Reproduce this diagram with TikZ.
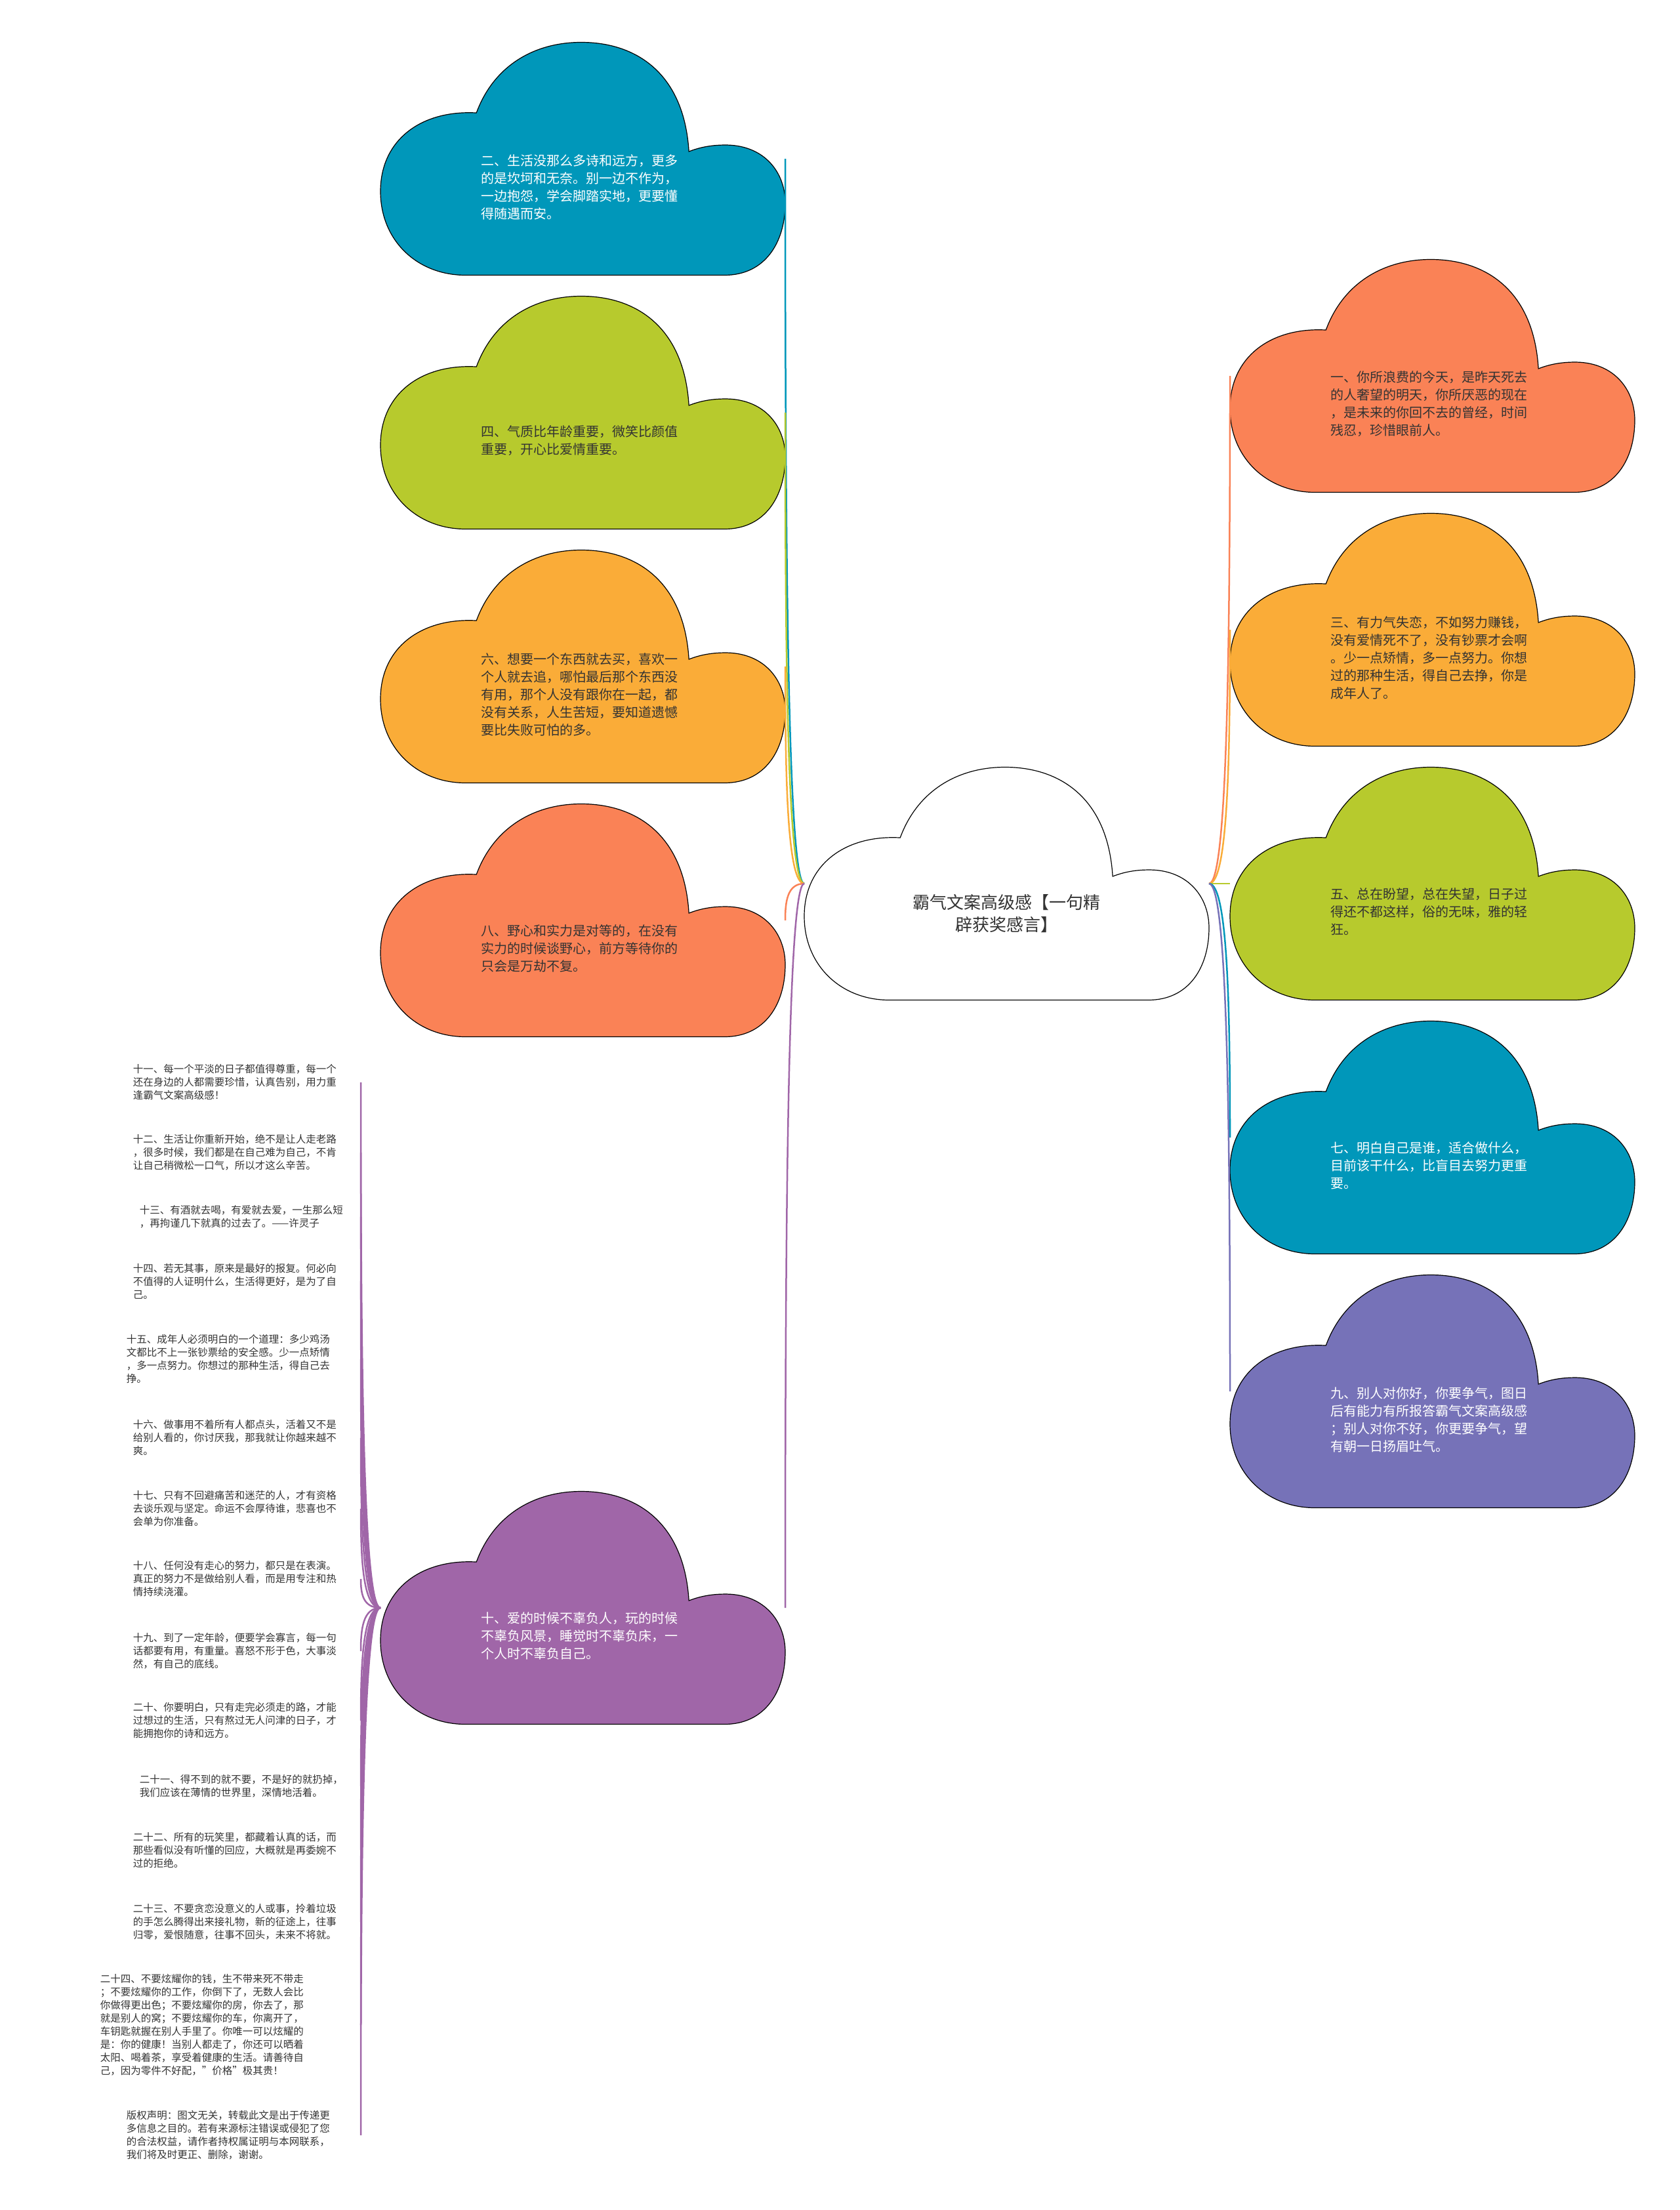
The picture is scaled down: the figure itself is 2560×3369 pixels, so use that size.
\documentclass[tikz,border=0pt]{standalone}
\usepackage{fontspec}
\setmainfont{Noto Sans CJK SC}
\usetikzlibrary{positioning, calc}

\definecolor{cteal}{RGB}{0,151,186}
\definecolor{cgreen}{RGB}{183,202,45}
\definecolor{corange}{RGB}{250,172,56}
\definecolor{ccoral}{RGB}{250,130,86}
\definecolor{cpurple}{RGB}{160,102,168}
\definecolor{cviolet}{RGB}{118,114,184}
\definecolor{cdark}{RGB}{51,51,51}

\tikzset{
	pics/cloudshape/.style={code={
			\filldraw [pic actions, draw=black, line width=1.2pt, x=617pt, y=-355pt]
			(0.21,1) .. controls (0.09,1) and (0,0.85) .. (0,0.64)
			.. controls (0,0.42) and (0.1,0.29) .. (0.237,0.303)
			.. controls (0.28,0.1) and (0.38,0) .. (0.496,0)
			.. controls (0.63,0) and (0.75,0.13) .. (0.762,0.469)
			.. controls (0.79,0.45) and (0.82,0.44) .. (0.857,0.441)
			.. controls (0.95,0.445) and (1,0.56) .. (1,0.69)
			.. controls (1,0.86) and (0.95,1) .. (0.85,1) -- cycle;
	}}
}

\begin{document}
\begin{tikzpicture}[
		x=1pt, y=-1pt,
		% Estilos de las nubes y textos
		cloudbox/.style={minimum width=617pt, minimum height=355pt, inner sep=0pt, outer sep=0pt},
		ctext/.style={text width=310pt, align=left, inner sep=0pt, yshift=-43pt, text=cdark, font=\fontsize{20pt}{27pt}\selectfont},
		title/.style={align=center, inner sep=0pt, yshift=-46pt, text=cdark, font=\fontsize{26pt}{34pt}\selectfont},
		item/.style={anchor=east, align=left, inner sep=0pt, text=cdark, font=\fontsize{15.5pt}{20pt}\selectfont},
		link/.style={draw=#1, line width=2.5pt,
			to path={.. controls ($(\tikztostart)!0.9!(\tikztotarget |- \tikztostart)$) and ($(\tikztotarget)!0.5!(\tikztotarget |- \tikztostart)$) .. (\tikztotarget)}}
		]
		
		\useasboundingbox (0,0) rectangle (2560,3369);
		
		% --- NUBE CENTRAL ---
		\node [cloudbox] (main) at (1534.5,1347) {};
		\pic [fill=white] at (main.north west) {cloudshape};
		\node [title] (tmain) at (main) {霸气文案高级感【一句精\\辟获奖感言】};
		
		% --- NUBES IZQUIERDA ---
		\node [cloudbox] (c2) at (888.5,242) {};
		\node [cloudbox, below=32pt of c2] (c4) {};
		\node [cloudbox, below=32pt of c4] (c6) {};
		\node [cloudbox, below=32pt of c6] (c8) {};
		\node [cloudbox] (c10) at (888.5,2451) {};
		
		\pic [fill=cteal] at (c2.north west) {cloudshape};
		\pic [fill=cgreen] at (c4.north west) {cloudshape};
		\pic [fill=corange] at (c6.north west) {cloudshape};
		\pic [fill=ccoral] at (c8.north west) {cloudshape};
		\pic [fill=cpurple] at (c10.north west) {cloudshape};
		
		\node [ctext, text=white] (t2) at (c2) {二、生活没那么多诗和远方，更多\\的是坎坷和无奈。别一边不作为，\\一边抱怨，学会脚踏实地，更要懂\\得随遇而安。};
		\node [ctext] (t4) at (c4) {四、气质比年龄重要，微笑比颜值\\重要，开心比爱情重要。};
		\node [ctext] (t6) at (c6) {六、想要一个东西就去买，喜欢一\\个人就去追，哪怕最后那个东西没\\有用，那个人没有跟你在一起，都\\没有关系，人生苦短，要知道遗憾\\要比失败可怕的多。};
		\node [ctext] (t8) at (c8) {八、野心和实力是对等的，在没有\\实力的时候谈野心，前方等待你的\\只会是万劫不复。};
		\node [ctext, text=white] (t10) at (c10) {十、爱的时候不辜负人，玩的时候\\不辜负风景，睡觉时不辜负床，一\\个人时不辜负自己。};
		
		% --- NUBES DERECHA ---
		\node [cloudbox] (c1) at (2183.5,573) {};
		\node [cloudbox, below=32pt of c1] (c3) {};
		\node [cloudbox, below=32pt of c3] (c5) {};
		\node [cloudbox, below=32pt of c5] (c7) {};
		\node [cloudbox, below=32pt of c7] (c9) {};
		
		\pic [fill=ccoral] at (c1.north west) {cloudshape};
		\pic [fill=corange] at (c3.north west) {cloudshape};
		\pic [fill=cgreen] at (c5.north west) {cloudshape};
		\pic [fill=cteal] at (c7.north west) {cloudshape};
		\pic [fill=cviolet] at (c9.north west) {cloudshape};
		
		\node [ctext] (t1) at (c1) {一、你所浪费的今天，是昨天死去\\的人奢望的明天，你所厌恶的现在\\，是未来的你回不去的曾经，时间\\残忍，珍惜眼前人。};
		\node [ctext] (t3) at (c3) {三、有力气失恋，不如努力赚钱，\\没有爱情死不了，没有钞票才会啊\\。少一点矫情，多一点努力。你想\\过的那种生活，得自己去挣，你是\\成年人了。};
		\node [ctext] (t5) at (c5) {五、总在盼望，总在失望，日子过\\得还不都这样，俗的无味，雅的轻\\狂。};
		\node [ctext, text=white] (t7) at (c7) {七、明白自己是谁，适合做什么，\\目前该干什么，比盲目去努力更重\\要。};
		\node [ctext, text=white] (t9) at (c9) {九、别人对你好，你要争气，图日\\后有能力有所报答霸气文案高级感\\；别人对你不好，你更要争气，望\\有朝一日扬眉吐气。};
		
		% --- LISTA DE FRASES ---
		\node [item, text width=347pt] (n11) at (550,1650) {十一、每一个平淡的日子都值得尊重，每一个\\还在身边的人都需要珍惜，认真告别，用力重\\逢霸气文案高级感！};
		\node [item, text width=347pt] (n12) at (550,1757) {十二、生活让你重新开始，绝不是让人走老路\\，很多时候，我们都是在自己难为自己，不肯\\让自己稍微松一口气，所以才这么辛苦。};
		\node [item, text width=337pt] (n13) at (550,1855) {十三、有酒就去喝，有爱就去爱，一生那么短\\，再拘谨几下就真的过去了。——许灵子};
		\node [item, text width=347pt] (n14) at (550,1953) {十四、若无其事，原来是最好的报复。何必向\\不值得的人证明什么，生活得更好，是为了自\\己。};
		\node [item, text width=357pt] (n15) at (550,2072) {十五、成年人必须明白的一个道理：多少鸡汤\\文都比不上一张钞票给的安全感。少一点矫情\\，多一点努力。你想过的那种生活，得自己去\\挣。};
		\node [item, text width=347pt] (n16) at (550,2192) {十六、做事用不着所有人都点头，活着又不是\\给别人看的，你讨厌我，那我就让你越来越不\\爽。};
		\node [item, text width=347pt] (n17) at (550,2300) {十七、只有不回避痛苦和迷茫的人，才有资格\\去谈乐观与坚定。命运不会厚待谁，悲喜也不\\会单为你准备。};
		\node [item, text width=347pt] (n18) at (550,2407) {十八、任何没有走心的努力，都只是在表演。\\真正的努力不是做给别人看，而是用专注和热\\情持续浇灌。};
		\node [item, text width=347pt] (n19) at (550,2517) {十九、到了一定年龄，便要学会寡言，每一句\\话都要有用，有重量。喜怒不形于色，大事淡\\然，有自己的底线。};
		\node [item, text width=347pt] (n20) at (550,2623) {二十、你要明白，只有走完必须走的路，才能\\过想过的生活，只有熬过无人问津的日子，才\\能拥抱你的诗和远方。};
		\node [item, text width=337pt] (n21) at (550,2723) {二十一、得不到的就不要，不是好的就扔掉，\\我们应该在薄情的世界里，深情地活着。};
		\node [item, text width=347pt] (n22) at (550,2820) {二十二、所有的玩笑里，都藏着认真的话，而\\那些看似没有听懂的回应，大概就是再委婉不\\过的拒绝。};
		\node [item, text width=347pt] (n23) at (550,2930) {二十三、不要贪恋没意义的人或事，拎着垃圾\\的手怎么腾得出来接礼物，新的征途上，往事\\归零，爱恨随意，往事不回头，未来不将就。};
		\node [item, text width=397pt] (n24) at (550,3087) {二十四、不要炫耀你的钱，生不带来死不带走\\；不要炫耀你的工作，你倒下了，无数人会比\\你做得更出色；不要炫耀你的房，你去了，那\\就是别人的窝；不要炫耀你的车，你离开了，\\车钥匙就握在别人手里了。你唯一可以炫耀的\\是：你的健康！当别人都走了，你还可以晒着\\太阳、喝着茶，享受着健康的生活。请善待自\\己，因为零件不好配，"价格"极其贵！};
		\node [item, text width=357pt] (ncopy) at (550,3255) {版权声明：图文无关，转载此文是出于传递更\\多信息之目的。若有来源标注错误或侵犯了您\\的合法权益，请作者持权属证明与本网联系，\\我们将及时更正、删除，谢谢。};
		
		% --- CONEXIONES ---
		\draw [link=cteal] (main.west) to (c2.east);
		\draw [link=cgreen] (main.west) to (c4.east);
		\draw [link=corange] (main.west) to (c6.east);
		\draw [link=ccoral] (main.west) to (c8.east);
		\draw [link=cpurple] (main.west) to (c10.east);
		
		\draw [link=ccoral] (main.east) to (c1.west);
		\draw [link=corange] (main.east) to (c3.west);
		\draw [link=cgreen] (main.east) to (c5.west);
		\draw [link=cteal] (main.east) to (c7.west);
		\draw [link=cviolet] (main.east) to (c9.west);
		
		% Frases colgando de la nube 10
		\draw [link=cpurple] (c10.west) to (n11.east);
		\draw [link=cpurple] (c10.west) to (n12.east);
		\draw [link=cpurple] (c10.west) to (n13.east);
		\draw [link=cpurple] (c10.west) to (n14.east);
		\draw [link=cpurple] (c10.west) to (n15.east);
		\draw [link=cpurple] (c10.west) to (n16.east);
		\draw [link=cpurple] (c10.west) to (n17.east);
		\draw [link=cpurple] (c10.west) to (n18.east);
		\draw [link=cpurple] (c10.west) to (n19.east);
		\draw [link=cpurple] (c10.west) to (n20.east);
		\draw [link=cpurple] (c10.west) to (n21.east);
		\draw [link=cpurple] (c10.west) to (n22.east);
		\draw [link=cpurple] (c10.west) to (n23.east);
		\draw [link=cpurple] (c10.west) to (n24.east);
		\draw [link=cpurple] (c10.west) to (ncopy.east);
		
	\end{tikzpicture}
\end{document}
